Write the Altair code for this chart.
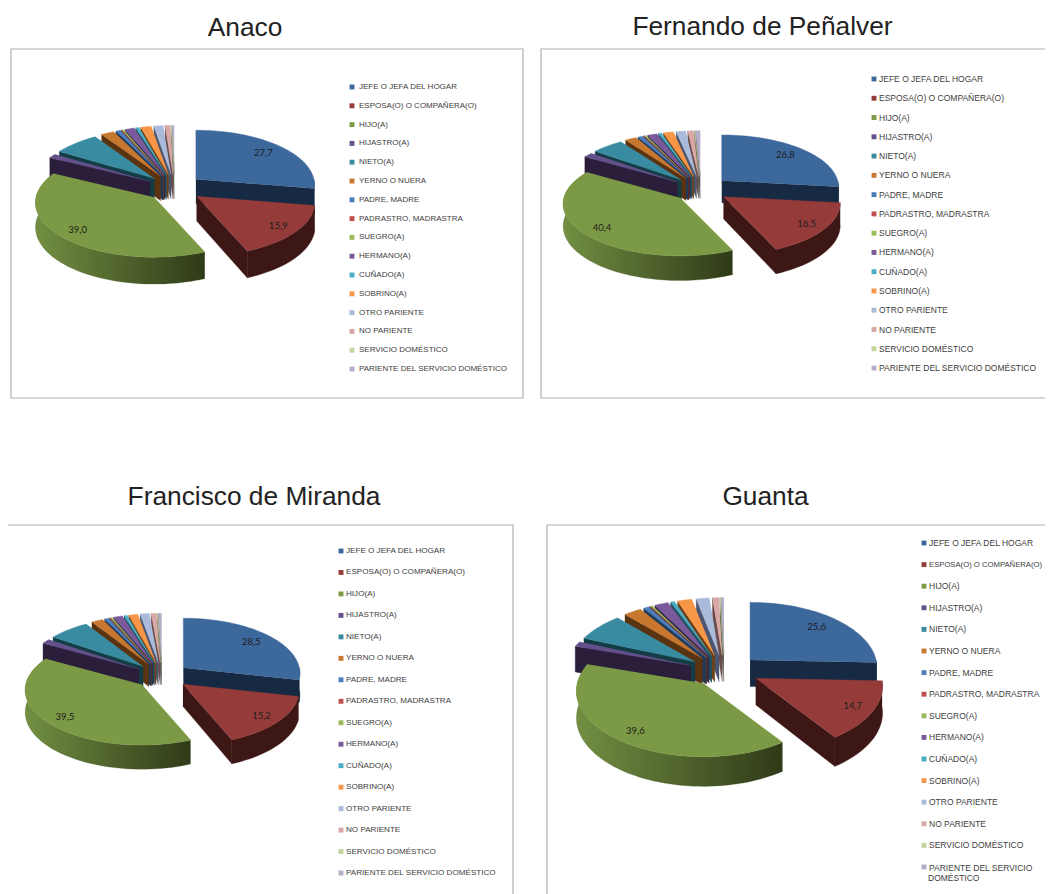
import math
import altair as alt
import pandas as pd

CATEGORIES = ["JEFE O JEFA DEL HOGAR", "ESPOSA(O) O  COMPAÑERA(O)", "HIJO(A)", "HIJASTRO(A)", "NIETO(A)",
              "YERNO O NUERA", "PADRE, MADRE", "PADRASTRO, MADRASTRA", "SUEGRO(A)", "HERMANO(A)", "CUÑADO(A)",
              "SOBRINO(A)", "OTRO PARIENTE", "NO PARIENTE", "SERVICIO DOMÉSTICO", "PARIENTE DEL SERVICIO DOMÉSTICO"]
TITLES = ["Anaco", "Fernando de Peñalver", "Francisco de Miranda", "Guanta"]
ANACO = [27.7, 15.9, 39.0, 1.3, 7.0, 2.0, 0.7, 0.1, 0.3, 1.4, 0.5, 1.6, 1.4, 0.8, 0.1, 0.3]
FERNANDO = [26.8, 16.5, 40.4, 1.5, 5.0, 1.8, 0.8, 0.1, 0.3, 1.5, 0.5, 1.6, 1.5, 0.9, 0.1, 0.7]
FRANCISCO = [28.5, 15.2, 39.5, 1.4, 6.4, 1.8, 0.7, 0.1, 0.3, 1.4, 0.5, 1.4, 1.4, 0.8, 0.1, 0.5]
GUANTA = [25.6, 14.7, 39.6, 1.3, 7.0, 2.6, 0.8, 0.1, 0.3, 2.0, 0.6, 2.1, 1.9, 0.9, 0.1, 0.4]
SERIES = [ANACO, FERNANDO, FRANCISCO, GUANTA]
TOP = ["#3d689c", "#953c3a", "#7c9a45", "#64508a", "#388ba0", "#c8772f", "#4a7ebb", "#c0504d",
       "#9bbb59", "#7a5a9a", "#4bacc6", "#f79646", "#a9bada", "#d9a8a6", "#c3d6a0", "#b7adc9"]
WALL = ["#172a44", "#3d1715", "#333f1b", "#2a1e3a", "#133c45", "#5a3310", "#1f3a5c", "#5a2422",
        "#46552a", "#35264a", "#1e5260", "#6e4015", "#4a5570", "#6a4c4b", "#5a6848", "#55506a"]

# panel layout: pie centre, explosion, radii, perspective, depth, frame, legend, title
PANELS = [
    dict(c=(174.5, 188), ex=(28, 13.5), r=(118, 54.5), p=0.10, d=24.5, frame=(11, 49, 523, 398),
         leg=(352, 359, 87, 18.8), fs=8.0, title=(245, 28)),
    dict(c=(700.9, 189.2), ex=(27.9, 12.75), r=(116, 52), p=0.12, d=22, frame=(541, 49, 1070, 398),
         leg=(874, 879, 79, 19.27), fs=8.5, title=(762.5, 27)),
    dict(c=(162.1, 675.9), ex=(27.2, 13.1), r=(116, 55), p=0.10, d=22, frame=(1, 525, 513, 920),
         leg=(341, 346, 551, 21.47), fs=8.1, title=(254, 497)),
    dict(c=(724.4, 670.8), ex=(35.6, 15.6), r=(126, 65.5), p=0.12, d=26.5, frame=(547, 525, 1070, 920),
         leg=(924, 929, 543, 21.6), fs=8.5, title=(765.5, 497)),
]
LABEL_F = [0.8, 0.83, 0.83]

polys, green_walls, front, texts, labels, squares, frames = [], [], [], [], [], [], []


def add_poly(store, key, pts, color):
    for k, (x, y) in enumerate(pts):
        store.append(dict(g=key, k=k, x=x, y=y, col=color))


for pi, (vals, pn, title) in enumerate(zip(SERIES, PANELS, TITLES)):
    (cx, cy), (ex, ey), (rx, ry) = pn["c"], pn["ex"], pn["r"]
    p, depth = pn["p"], pn["d"]
    frames.append(dict(x=pn["frame"][0], y=pn["frame"][1], x2=pn["frame"][2], y2=pn["frame"][3]))
    texts.append(dict(x=pn["title"][0], y=pn["title"][1], t=title, s=26.3, a="center"))

    total = sum(vals)
    bounds, acc = [], 0.0
    for v in vals:
        bounds.append((acc / total * 2 * math.pi, (acc + v) / total * 2 * math.pi))
        acc += v

    def apex(i):
        m = sum(bounds[i]) / 2
        return cx + ex * math.sin(m), cy - ey * math.cos(m)

    def rim(i, th, frac=1.0):
        ax, ay = apex(i)
        u, v = math.sin(th), -math.cos(th)
        s = 1 + p * v
        return ax + frac * rx * u * s, ay + frac * ry * v * s

    def drop(th):
        return depth * (1 + p * (-math.cos(th)))

    def arc(i, a, b):
        n = max(2, int(abs(b - a) / 0.04) + 1)
        return [rim(i, a + (b - a) * j / (n - 1)) for j in range(n)]

    def radial_wall(i, th):
        ax, ay = apex(i)
        rx_, ry_ = rim(i, th)
        return [(ax, ay), (rx_, ry_), (rx_, ry_ + drop(th)), (ax, ay + depth)]

    def outer_wall(i, a, b):
        top = arc(i, a, b)
        n = len(top)
        ths = [a + (b - a) * j / (n - 1) for j in range(n)]
        bottom = [(x, y + drop(t)) for (x, y), t in zip(top, ths)]
        return top + bottom[::-1]

    def top_face(i):
        return [apex(i)] + arc(i, *bounds[i])

    # far slices first: last category back to HIJASTRO
    for i in range(15, 2, -1):
        add_poly(polys, f"{pi}-{i:02d}-w", radial_wall(i, bounds[i][0]), WALL[i])
        add_poly(polys, f"{pi}-{i:02d}-t", top_face(i), TOP[i])

    # the green outer wall has its own gradient layer
    add_poly(green_walls, f"{pi}-g", outer_wall(2, bounds[2][0], bounds[2][1]), WALL[2])
    for i, fac in enumerate(LABEL_F):
        lx, ly = rim(i, sum(bounds[i]) / 2, fac)
        labels.append(dict(x=lx, y=ly, t=f"{vals[i]:.1f}".replace(".", ",")))

    add_poly(front, f"{pi}-2-t", top_face(2), TOP[2])
    add_poly(front, f"{pi}-0-w1", radial_wall(0, bounds[0][1]), WALL[0])
    add_poly(front, f"{pi}-0-w2", outer_wall(0, math.pi / 2, bounds[0][1]), WALL[0])
    add_poly(front, f"{pi}-0-t", top_face(0), TOP[0])
    add_poly(front, f"{pi}-1-w1", radial_wall(1, bounds[1][1]), WALL[1])
    add_poly(front, f"{pi}-1-w2", outer_wall(1, bounds[1][0], bounds[1][1]), WALL[1])
    add_poly(front, f"{pi}-1-t", top_face(1), TOP[1])

    sqx, tx, y0, step = pn["leg"]
    for i, cat in enumerate(CATEGORIES):
        y = y0 + step * i
        squares.append(dict(x=sqx, y=y, col=TOP[i]))
        if pi == 3 and i == 15:
            texts.append(dict(x=tx, y=y + 1, t="PARIENTE DEL SERVICIO", s=pn["fs"], a="left"))
            texts.append(dict(x=tx - 1, y=y + 11, t="DOMÉSTICO", s=pn["fs"], a="left"))
        elif pi == 3 and i == 1:
            # the picture ends before this one does: a little smaller so that it stays whole
            texts.append(dict(x=tx, y=y, t=cat, s=7.7, a="left"))
        else:
            texts.append(dict(x=tx, y=y, t=cat, s=pn["fs"], a="left"))

X = alt.X("x:Q", axis=None, scale=alt.Scale(domain=[8, 1045], nice=False, zero=False))
Y = alt.Y("y:Q", axis=None, scale=alt.Scale(domain=[894, 8], nice=False, zero=False))


def poly_layer(rows):
    return alt.Chart(pd.DataFrame(rows)).mark_line(strokeWidth=0.4, interpolate="linear").encode(
        x=X, y=Y, detail="g:N", order="k:Q",
        fill=alt.Fill("col:N", scale=None), stroke=alt.Stroke("col:N", scale=None))


frame_layer = alt.Chart(pd.DataFrame(frames)).mark_rect(fill="#ffffff", stroke="#b0b0b0", strokeWidth=1.2).encode(
    x=X, y=Y, x2="x2:Q", y2="y2:Q")

wall_gradient = alt.Gradient(gradient="linear", x1=0, x2=1, y1=0, y2=0, stops=[
    alt.GradientStop(offset=0, color="#728f42"), alt.GradientStop(offset=1, color="#2f3a18")])
green_layer = alt.Chart(pd.DataFrame(green_walls)).mark_line(
    fill=wall_gradient, stroke="#3f4f22", strokeWidth=0.2).encode(x=X, y=Y, detail="g:N", order="k:Q")

sq_layer = alt.Chart(pd.DataFrame(squares)).mark_square(size=24, opacity=1, filled=True).encode(
    x=X, y=Y, color=alt.Color("col:N", scale=None))

tdf = pd.DataFrame(texts)
text_left = alt.Chart(tdf[tdf.a == "left"]).mark_text(align="left", baseline="middle", font="Liberation Sans",
                                                     color="#404040").encode(
    x=X, y=Y, text="t:N", size=alt.Size("s:Q", scale=None))
text_title = alt.Chart(tdf[tdf.a == "center"]).mark_text(align="center", baseline="middle", font="Liberation Sans",
                                                        color="#222222").encode(
    x=X, y=Y, text="t:N", size=alt.Size("s:Q", scale=None))
label_layer = alt.Chart(pd.DataFrame(labels)).mark_text(align="center", baseline="middle", font="Lato", fontSize=9.5,
                                                        color="#1c1c1c").encode(x=X, y=Y, text="t:N")

chart = alt.layer(frame_layer, poly_layer(polys), green_layer, poly_layer(front), label_layer, sq_layer,
                  text_left, text_title).properties(
    width=1037, height=886, padding=0, autosize=alt.AutoSizeParams(type="none")
).configure_view(stroke=None, clip=False)

chart.save("out.html", embed_options={"renderer": "svg", "actions": False})
